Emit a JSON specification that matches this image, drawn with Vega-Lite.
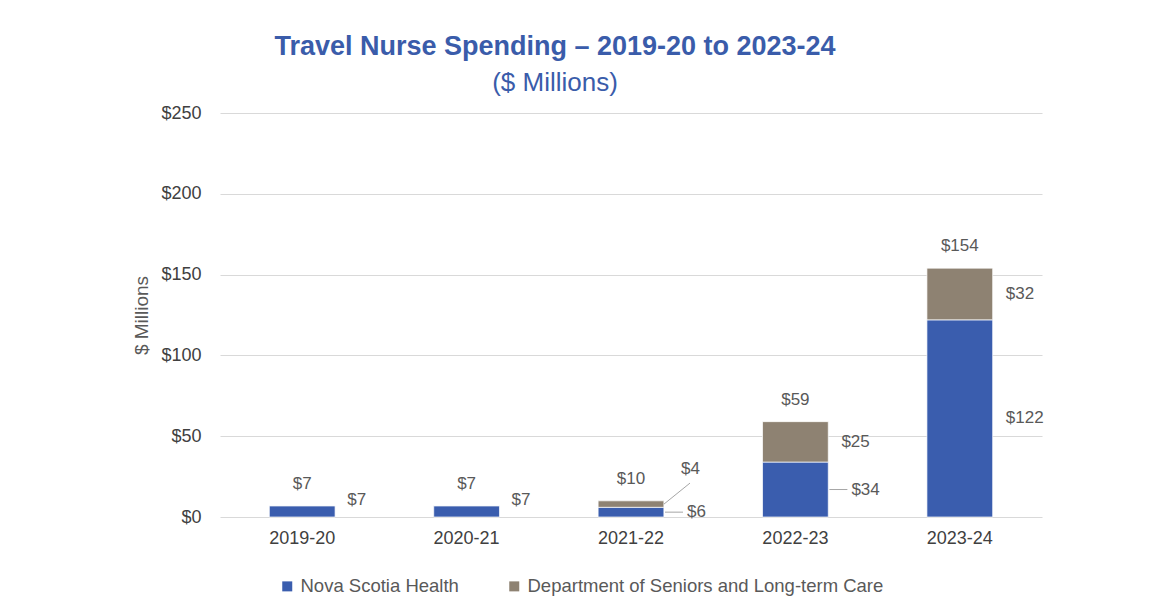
{
  "$schema": "https://vega.github.io/schema/vega-lite/v6.json",
  "autosize": {"type": "none"},
  "width": 822,
  "height": 404,
  "padding": {"left": 220, "top": 113, "right": 124, "bottom": 79},
  "background": "#ffffff",
  "config": {
    "view": {"stroke": null},
    "font": "Liberation Sans",
    "text": {"font": "Liberation Sans"}
  },
  "title": {
    "text": "Travel Nurse Spending – 2019-20 to 2023-24",
    "subtitle": "($ Millions)",
    "anchor": "middle",
    "frame": "group",
    "dx": -76,
    "offset": 7,
    "font": "Liberation Sans",
    "fontSize": 27,
    "fontWeight": "bold",
    "color": "#3A5CAA",
    "subtitleFont": "Liberation Sans",
    "subtitleFontSize": 26,
    "subtitleColor": "#3A5CAA",
    "subtitlePadding": 9
  },
  "data": {
    "values": [
      {"year": "2019-20", "org": "Nova Scotia Health", "value": 7},
      {"year": "2019-20", "org": "Department of Seniors and Long-term Care", "value": 0},
      {"year": "2020-21", "org": "Nova Scotia Health", "value": 7},
      {"year": "2020-21", "org": "Department of Seniors and Long-term Care", "value": 0},
      {"year": "2021-22", "org": "Nova Scotia Health", "value": 6},
      {"year": "2021-22", "org": "Department of Seniors and Long-term Care", "value": 4},
      {"year": "2022-23", "org": "Nova Scotia Health", "value": 34},
      {"year": "2022-23", "org": "Department of Seniors and Long-term Care", "value": 25},
      {"year": "2023-24", "org": "Nova Scotia Health", "value": 122},
      {"year": "2023-24", "org": "Department of Seniors and Long-term Care", "value": 32}
    ]
  },
  "transform": [
    {"calculate": "datum.org === 'Nova Scotia Health' ? 0 : 1", "as": "rank"},
    {"stack": "value", "groupby": ["year"], "sort": [{"field": "rank", "order": "ascending"}], "as": ["v0", "v1"]},
    {"calculate": "(datum.v0 + datum.v1) / 2", "as": "mid"},
    {"calculate": "'$' + format(datum.value, 'd')", "as": "lbl"}
  ],
  "encoding": {
    "x": {
      "field": "year",
      "type": "nominal",
      "sort": null,
      "scale": {"paddingInner": 0.6, "paddingOuter": 0.3},
      "axis": {
        "title": null,
        "labelAngle": 0,
        "labelFont": "Liberation Sans",
        "labelFontSize": 18,
        "labelColor": "#404040",
        "labelPadding": 12,
        "ticks": false,
        "domain": false
      }
    }
  },
  "layer": [
    {
      "mark": {"type": "bar", "stroke": "#ffffff", "strokeWidth": 0.7},
      "encoding": {
        "y": {
          "field": "v0",
          "type": "quantitative",
          "scale": {"domain": [0, 250], "nice": false},
          "axis": {
            "title": "$ Millions",
            "titleFont": "Liberation Sans",
            "titleFontSize": 19,
            "titleFontWeight": "normal",
            "titleColor": "#595959",
            "titlePadding": 9,
            "values": [0, 50, 100, 150, 200, 250],
            "labelExpr": "'$' + datum.value",
            "labelFont": "Liberation Sans",
            "labelFontSize": 18,
            "labelColor": "#404040",
            "labelPadding": 19,
            "ticks": false,
            "domain": false,
            "gridColor": "#d9d9d9",
            "gridWidth": 1
          }
        },
        "y2": {"field": "v1"},
        "color": {
          "field": "org",
          "type": "nominal",
          "scale": {
            "domain": ["Nova Scotia Health", "Department of Seniors and Long-term Care"],
            "range": ["#3A5DAE", "#8E8272"]
          },
          "legend": {
            "title": null,
            "orient": "none",
            "direction": "horizontal",
            "legendX": 58,
            "legendY": 464,
            "symbolType": "square",
            "symbolSize": 100,
            "symbolStrokeWidth": 0,
            "labelFont": "Liberation Sans",
            "labelFontSize": 18.5,
            "labelColor": "#595959",
            "labelLimit": 0,
            "columnPadding": 46,
            "labelOffset": 4
          }
        }
      }
    },
    {
      "transform": [
        {"aggregate": [{"op": "sum", "field": "value", "as": "total"}], "groupby": ["year"]},
        {"calculate": "'$' + format(datum.total, 'd')", "as": "tlbl"}
      ],
      "mark": {"type": "text", "dy": -22, "fontSize": 17, "color": "#595959", "font": "Liberation Sans"},
      "encoding": {
        "y": {"field": "total", "type": "quantitative"},
        "text": {"field": "tlbl"}
      }
    },
    {
      "transform": [
        {"filter": "datum.value > 0 && (datum.year === '2022-23' && datum.rank === 1 || datum.year === '2023-24')"}
      ],
      "mark": {"type": "text", "align": "left", "xOffset": 46, "fontSize": 17, "color": "#595959", "font": "Liberation Sans"},
      "encoding": {
        "y": {"field": "mid", "type": "quantitative"},
        "text": {"field": "lbl"}
      }
    },
    {
      "transform": [
        {"filter": "datum.value > 0 && (datum.year === '2019-20' || datum.year === '2020-21')"}
      ],
      "mark": {"type": "text", "align": "left", "xOffset": 45, "dy": -11, "fontSize": 17, "color": "#595959", "font": "Liberation Sans"},
      "encoding": {
        "y": {"field": "mid", "type": "quantitative"},
        "text": {"field": "lbl"}
      }
    },
    {
      "transform": [
        {"filter": "datum.rank === 0 && (datum.year === '2021-22' || datum.year === '2022-23')"}
      ],
      "mark": {"type": "text", "align": "left", "xOffset": 56, "fontSize": 17, "color": "#595959", "font": "Liberation Sans"},
      "encoding": {
        "y": {"field": "mid", "type": "quantitative"},
        "text": {"field": "lbl"}
      }
    },
    {
      "transform": [
        {"filter": "datum.rank === 1 && datum.year === '2021-22'"}
      ],
      "mark": {"type": "text", "align": "left", "xOffset": 50, "dy": -35, "fontSize": 17, "color": "#595959", "font": "Liberation Sans"},
      "encoding": {
        "y": {"field": "mid", "type": "quantitative"},
        "text": {"field": "lbl"}
      }
    },
    {
      "transform": [
        {"filter": "datum.rank === 0 && (datum.year === '2021-22' || datum.year === '2022-23')"}
      ],
      "mark": {"type": "rule", "xOffset": 34, "x2Offset": 52, "color": "#a6a6a6", "strokeWidth": 1},
      "encoding": {
        "x2": {"field": "year"},
        "y": {"field": "mid", "type": "quantitative"},
        "y2": {"field": "mid"}
      }
    },
    {
      "transform": [
        {"filter": "datum.rank === 1 && datum.year === '2021-22'"}
      ],
      "mark": {"type": "rule", "xOffset": 33, "x2Offset": 59, "color": "#a6a6a6", "strokeWidth": 1},
      "encoding": {
        "x2": {"field": "year"},
        "y": {"field": "mid", "type": "quantitative"},
        "y2": {"datum": 21}
      }
    }
  ]
}
